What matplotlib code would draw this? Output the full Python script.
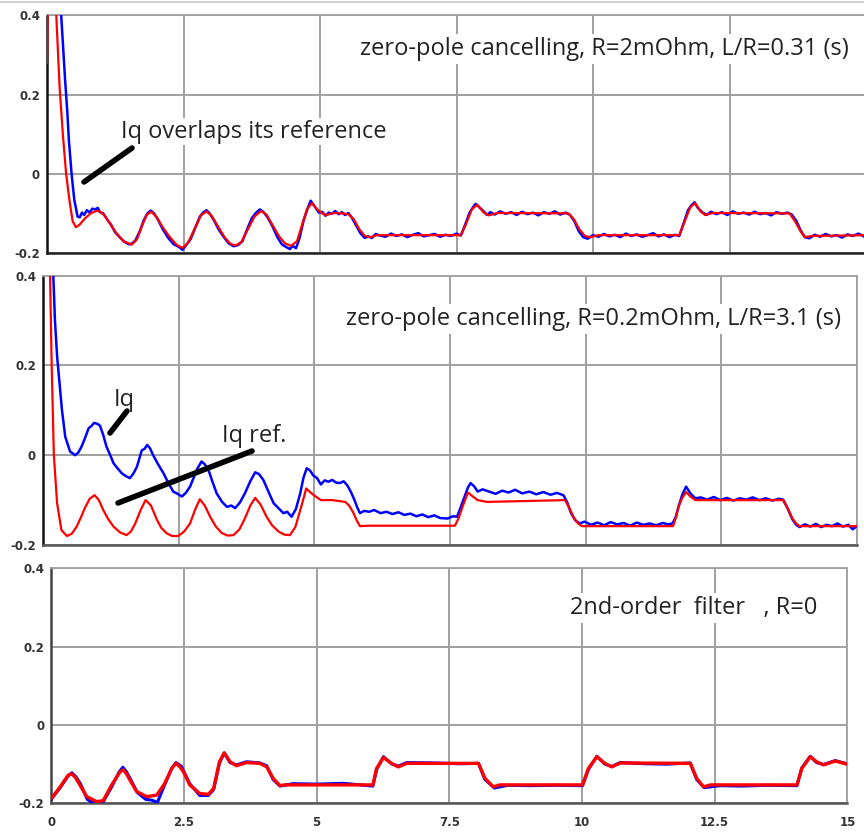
import matplotlib
matplotlib.use('Agg')
import matplotlib.pyplot as plt
from matplotlib.lines import Line2D

# ---------------- data, (time s, Iq) ----------------
x_ticks = [0, 2.5, 5, 7.5, 10, 12.5, 15]
x_tick_labels = ['0', '2.5', '5', '7.5', '10', '12.5', '15']
y_ticks = [-0.2, 0, 0.2, 0.4]
y_tick_labels = ['-0.2', '0', '0.2', '0.4']

titles = ['zero-pole cancelling, R=2mOhm, L/R=0.31 (s)',
          'zero-pole cancelling, R=0.2mOhm, L/R=3.1 (s)',
          '2nd-order  filter   , R=0']

# Panel 1: Iq reference (red)
p1_ref = [(0, 0.28), (0.02, 0.5), (0.15, 0.5), (0.17, 0.40), (0.20, 0.31), (0.23, 0.22), (0.29, 0.10),
          (0.35, 0.0), (0.41, -0.066), (0.47, -0.12), (0.53, -0.135), (0.60, -0.128), (0.70, -0.112),
          (0.80, -0.100), (0.90, -0.094), (0.97, -0.095), (1.05, -0.105), (1.15, -0.125), (1.27, -0.150),
          (1.40, -0.170), (1.55, -0.179), (1.65, -0.165), (1.75, -0.128), (1.83, -0.103), (1.91, -0.096),
          (2.00, -0.108), (2.12, -0.135), (2.25, -0.160), (2.38, -0.180), (2.48, -0.187), (2.58, -0.175),
          (2.70, -0.140), (2.82, -0.105), (2.92, -0.095), (3.02, -0.107), (3.12, -0.130), (3.25, -0.160),
          (3.36, -0.177), (3.46, -0.181), (3.56, -0.172), (3.68, -0.140), (3.80, -0.108), (3.92, -0.094),
          (4.02, -0.103), (4.12, -0.127), (4.25, -0.158), (4.36, -0.176), (4.47, -0.182), (4.58, -0.170),
          (4.68, -0.125), (4.76, -0.090), (4.85, -0.074), (4.95, -0.090), (5.05, -0.101), (5.12, -0.104),
          (5.25, -0.099), (5.40, -0.100), (5.52, -0.102), (5.62, -0.115), (5.72, -0.140), (5.82, -0.157),
          (5.92, -0.160), (6.05, -0.155), (7.58, -0.155), (7.68, -0.125), (7.78, -0.090), (7.88, -0.078),
          (8.00, -0.098), (8.09, -0.105), (8.25, -0.099), (9.55, -0.100), (9.65, -0.115), (9.75, -0.140),
          (9.85, -0.157), (9.95, -0.160), (10.10, -0.155), (11.58, -0.155), (11.68, -0.120),
          (11.78, -0.085), (11.87, -0.074), (11.97, -0.095), (12.05, -0.104), (12.20, -0.099),
          (13.60, -0.100), (13.70, -0.120), (13.80, -0.145), (13.88, -0.160), (14.00, -0.157),
          (15.0, -0.155)]

# Panel 1: Iq measured (blue)
p1_iq = [(0, 0.6), (0.26, 0.40), (0.30, 0.31), (0.33, 0.24), (0.37, 0.16), (0.40, 0.086), (0.45, 0.0),
         (0.50, -0.066), (0.56, -0.108), (0.60, -0.110), (0.64, -0.098), (0.68, -0.104), (0.73, -0.092),
         (0.78, -0.098), (0.83, -0.088), (0.88, -0.090), (0.93, -0.086), (0.97, -0.097), (1.03, -0.100),
         (1.10, -0.115), (1.17, -0.128), (1.25, -0.148), (1.33, -0.160), (1.42, -0.172), (1.50, -0.178),
         (1.56, -0.176), (1.62, -0.168), (1.70, -0.145), (1.77, -0.118), (1.84, -0.100), (1.90, -0.093),
         (1.96, -0.100), (2.03, -0.115), (2.12, -0.140), (2.22, -0.162), (2.32, -0.178), (2.42, -0.185),
         (2.48, -0.192), (2.55, -0.180), (2.63, -0.165), (2.72, -0.135), (2.80, -0.108), (2.86, -0.098),
         (2.92, -0.092), (2.98, -0.100), (3.06, -0.118), (3.15, -0.142), (3.25, -0.162), (3.33, -0.176),
         (3.42, -0.183), (3.50, -0.180), (3.58, -0.170), (3.66, -0.142), (3.75, -0.112), (3.83, -0.098),
         (3.90, -0.090), (3.96, -0.096), (4.03, -0.108), (4.12, -0.130), (4.22, -0.160), (4.30, -0.178),
         (4.38, -0.185), (4.45, -0.190), (4.50, -0.182), (4.56, -0.188), (4.62, -0.165), (4.70, -0.118),
         (4.78, -0.085), (4.83, -0.068), (4.88, -0.078), (4.93, -0.088), (4.98, -0.098), (5.04, -0.096),
         (5.10, -0.106), (5.16, -0.098), (5.22, -0.101), (5.28, -0.094), (5.34, -0.102), (5.40, -0.097),
         (5.46, -0.104), (5.52, -0.099), (5.58, -0.110), (5.66, -0.130), (5.74, -0.150), (5.82, -0.162),
         (5.88, -0.158), (5.95, -0.162), (6.02, -0.152), (6.1, -0.156), (6.2, -0.159), (6.3, -0.151),
         (6.4, -0.157), (6.5, -0.153), (6.6, -0.160), (6.7, -0.154), (6.8, -0.150), (6.9, -0.158),
         (7.0, -0.155), (7.1, -0.152), (7.2, -0.159), (7.3, -0.154), (7.4, -0.157), (7.5, -0.151),
         (7.58, -0.156), (7.66, -0.128), (7.74, -0.098), (7.80, -0.085), (7.85, -0.076), (7.92, -0.085),
         (8.00, -0.095), (8.06, -0.104), (8.12, -0.097), (8.20, -0.103), (8.3, -0.095), (8.4, -0.101),
         (8.5, -0.097), (8.6, -0.104), (8.7, -0.096), (8.8, -0.102), (8.9, -0.098), (9.0, -0.105),
         (9.1, -0.097), (9.2, -0.101), (9.3, -0.095), (9.4, -0.103), (9.5, -0.098), (9.58, -0.104),
         (9.66, -0.120), (9.74, -0.145), (9.82, -0.160), (9.90, -0.164), (10.0, -0.155), (10.1, -0.159),
         (10.2, -0.152), (10.3, -0.158), (10.4, -0.154), (10.5, -0.160), (10.6, -0.151), (10.7, -0.157),
         (10.8, -0.153), (10.9, -0.159), (11.0, -0.155), (11.1, -0.150), (11.2, -0.158), (11.3, -0.153),
         (11.4, -0.160), (11.5, -0.154), (11.58, -0.157), (11.66, -0.125), (11.74, -0.092),
         (11.80, -0.080), (11.86, -0.072), (11.92, -0.086), (12.00, -0.097), (12.08, -0.104),
         (12.16, -0.096), (12.26, -0.102), (12.36, -0.097), (12.46, -0.104), (12.56, -0.095),
         (12.66, -0.101), (12.76, -0.098), (12.86, -0.103), (12.96, -0.096), (13.06, -0.102),
         (13.16, -0.099), (13.26, -0.105), (13.36, -0.097), (13.46, -0.101), (13.56, -0.098),
         (13.64, -0.103), (13.72, -0.118), (13.80, -0.142), (13.88, -0.160), (13.96, -0.163),
         (14.06, -0.154), (14.16, -0.159), (14.26, -0.152), (14.36, -0.158), (14.46, -0.155),
         (14.56, -0.161), (14.66, -0.153), (14.76, -0.157), (14.86, -0.151), (14.96, -0.158)]

# Panel 2: Iq reference (red)
p2_ref = [(0, 0.6), (0.12, 0.6), (0.13, 0.40), (0.16, 0.20), (0.20, 0.0), (0.26, -0.107), (0.34, -0.167),
          (0.44, -0.180), (0.53, -0.175), (0.62, -0.159), (0.70, -0.138), (0.77, -0.118), (0.86, -0.097),
          (0.95, -0.089), (1.03, -0.100), (1.11, -0.122), (1.20, -0.142), (1.30, -0.159), (1.42, -0.172),
          (1.54, -0.178), (1.62, -0.170), (1.70, -0.152), (1.80, -0.122), (1.89, -0.100), (1.99, -0.112),
          (2.10, -0.144), (2.18, -0.162), (2.28, -0.174), (2.38, -0.180), (2.49, -0.180), (2.60, -0.170),
          (2.71, -0.152), (2.80, -0.122), (2.89, -0.098), (2.98, -0.112), (3.08, -0.137), (3.18, -0.158),
          (3.29, -0.173), (3.40, -0.179), (3.51, -0.178), (3.62, -0.165), (3.72, -0.141), (3.82, -0.112),
          (3.91, -0.095), (4.01, -0.110), (4.12, -0.137), (4.22, -0.156), (4.34, -0.170), (4.45, -0.177),
          (4.55, -0.178), (4.65, -0.160), (4.71, -0.135), (4.77, -0.110), (4.85, -0.074), (4.92, -0.082),
          (4.99, -0.089), (5.12, -0.100), (5.33, -0.100), (5.57, -0.104), (5.64, -0.112), (5.71, -0.126),
          (5.78, -0.145), (5.84, -0.158), (6.01, -0.157), (7.59, -0.157), (7.66, -0.140), (7.73, -0.115),
          (7.83, -0.083), (7.92, -0.092), (8.01, -0.100), (8.18, -0.104), (9.62, -0.100), (9.70, -0.118),
          (9.79, -0.141), (9.86, -0.152), (9.93, -0.158), (11.61, -0.158), (11.66, -0.140),
          (11.71, -0.115), (11.78, -0.095), (11.85, -0.082), (11.93, -0.092), (12.02, -0.100),
          (13.64, -0.100), (13.72, -0.118), (13.81, -0.141), (13.88, -0.152), (13.94, -0.158),
          (15.0, -0.158)]

# Panel 2: Iq measured (blue)
p2_iq = [(0, 0.6), (0.19, 0.40), (0.22, 0.301), (0.26, 0.22), (0.31, 0.153), (0.35, 0.10), (0.41, 0.041),
         (0.50, 0.008), (0.55, 0.004), (0.59, 0.0), (0.65, 0.006), (0.71, 0.019), (0.78, 0.040),
         (0.84, 0.060), (0.90, 0.066), (0.94, 0.072), (1.00, 0.070), (1.05, 0.066), (1.11, 0.045),
         (1.17, 0.019), (1.24, 0.000), (1.30, -0.018), (1.38, -0.030), (1.45, -0.040), (1.52, -0.046),
         (1.60, -0.051), (1.66, -0.042), (1.73, -0.026), (1.82, 0.011), (1.87, 0.014), (1.92, 0.023),
         (1.97, 0.016), (2.03, 0.000), (2.12, -0.020), (2.22, -0.040), (2.31, -0.062), (2.40, -0.081),
         (2.48, -0.086), (2.56, -0.092), (2.63, -0.084), (2.71, -0.070), (2.77, -0.052), (2.83, -0.033),
         (2.92, -0.014), (2.98, -0.020), (3.05, -0.033), (3.12, -0.058), (3.20, -0.085), (3.30, -0.104),
         (3.39, -0.115), (3.47, -0.112), (3.54, -0.118), (3.63, -0.105), (3.72, -0.085), (3.82, -0.058),
         (3.91, -0.038), (3.98, -0.042), (4.06, -0.055), (4.15, -0.080), (4.25, -0.107), (4.34, -0.118),
         (4.43, -0.129), (4.50, -0.126), (4.58, -0.137), (4.66, -0.120), (4.74, -0.085), (4.80, -0.050),
         (4.86, -0.029), (4.92, -0.034), (4.98, -0.045), (5.05, -0.051), (5.12, -0.065), (5.19, -0.056),
         (5.26, -0.059), (5.33, -0.055), (5.40, -0.061), (5.47, -0.062), (5.54, -0.058), (5.60, -0.066),
         (5.64, -0.074), (5.69, -0.086), (5.74, -0.100), (5.79, -0.116), (5.84, -0.129), (5.92, -0.124),
         (6.01, -0.126), (6.10, -0.122), (6.22, -0.129), (6.33, -0.126), (6.44, -0.131), (6.55, -0.127),
         (6.66, -0.133), (6.77, -0.130), (6.88, -0.136), (6.99, -0.132), (7.10, -0.138), (7.21, -0.134),
         (7.32, -0.140), (7.46, -0.141), (7.55, -0.136), (7.63, -0.137), (7.70, -0.115), (7.77, -0.092),
         (7.83, -0.072), (7.88, -0.062), (7.95, -0.070), (8.01, -0.081), (8.10, -0.076), (8.22, -0.081),
         (8.34, -0.086), (8.46, -0.079), (8.58, -0.083), (8.70, -0.077), (8.83, -0.085), (8.96, -0.081),
         (9.09, -0.087), (9.22, -0.082), (9.35, -0.088), (9.47, -0.084), (9.59, -0.089), (9.66, -0.105),
         (9.73, -0.129), (9.81, -0.145), (9.89, -0.152), (9.98, -0.148), (10.10, -0.155), (10.22, -0.150),
         (10.34, -0.156), (10.46, -0.149), (10.58, -0.154), (10.70, -0.151), (10.82, -0.157),
         (10.94, -0.150), (11.06, -0.155), (11.18, -0.152), (11.30, -0.156), (11.42, -0.151),
         (11.52, -0.154), (11.60, -0.152), (11.66, -0.138), (11.71, -0.115), (11.78, -0.088),
         (11.85, -0.070), (11.93, -0.085), (12.02, -0.096), (12.12, -0.094), (12.24, -0.099),
         (12.36, -0.093), (12.48, -0.100), (12.60, -0.095), (12.72, -0.101), (12.84, -0.096),
         (12.96, -0.099), (13.08, -0.094), (13.20, -0.100), (13.32, -0.096), (13.44, -0.101),
         (13.56, -0.097), (13.64, -0.099), (13.72, -0.118), (13.81, -0.143), (13.88, -0.155),
         (13.94, -0.160), (14.04, -0.154), (14.14, -0.159), (14.24, -0.153), (14.34, -0.160),
         (14.44, -0.155), (14.54, -0.158), (14.64, -0.152), (14.74, -0.159), (14.84, -0.155),
         (14.92, -0.165), (15.0, -0.158)]

# Panel 3: Iq reference (red)
p3_ref = [(0.01, -0.186), (0.17, -0.158), (0.32, -0.128), (0.39, -0.125), (0.46, -0.135), (0.54, -0.153),
          (0.67, -0.183), (0.86, -0.196), (0.98, -0.193), (1.14, -0.153), (1.30, -0.119), (1.36, -0.115),
          (1.42, -0.125), (1.48, -0.140), (1.61, -0.170), (1.80, -0.183), (1.99, -0.179), (2.14, -0.149),
          (2.27, -0.111), (2.35, -0.098), (2.42, -0.106), (2.49, -0.119), (2.61, -0.153), (2.80, -0.175),
          (2.96, -0.177), (3.06, -0.162), (3.17, -0.094), (3.26, -0.071), (3.37, -0.094), (3.49, -0.104),
          (3.68, -0.096), (3.93, -0.098), (4.06, -0.107), (4.18, -0.136), (4.31, -0.155), (4.40, -0.153),
          (6.06, -0.153), (6.13, -0.111), (6.26, -0.083), (6.41, -0.098), (6.54, -0.107), (6.70, -0.098),
          (8.05, -0.098), (8.17, -0.136), (8.33, -0.158), (8.45, -0.153), (10.01, -0.153), (10.12, -0.111),
          (10.28, -0.081), (10.43, -0.098), (10.56, -0.107), (10.72, -0.097), (12.04, -0.098),
          (12.16, -0.136), (12.29, -0.158), (12.42, -0.153), (14.05, -0.153), (14.14, -0.111),
          (14.30, -0.081), (14.42, -0.094), (14.55, -0.102), (14.77, -0.092), (14.99, -0.100)]

# Panel 3: Iq measured (blue)
p3_iq = [(0.0, -0.190), (0.17, -0.160), (0.32, -0.130), (0.39, -0.122), (0.47, -0.133), (0.55, -0.150),
         (0.68, -0.190), (0.80, -0.200), (0.90, -0.199), (0.98, -0.196), (1.14, -0.158), (1.28, -0.120),
         (1.35, -0.108), (1.42, -0.120), (1.50, -0.140), (1.62, -0.172), (1.78, -0.190), (1.90, -0.192),
         (2.00, -0.198), (2.14, -0.152), (2.27, -0.111), (2.35, -0.096), (2.45, -0.105), (2.61, -0.150),
         (2.80, -0.180), (2.96, -0.180), (3.06, -0.165), (3.17, -0.097), (3.26, -0.072), (3.37, -0.096),
         (3.49, -0.102), (3.68, -0.094), (3.93, -0.097), (4.06, -0.104), (4.18, -0.139), (4.31, -0.156),
         (4.55, -0.150), (5.00, -0.151), (5.50, -0.149), (6.06, -0.156), (6.13, -0.114), (6.26, -0.081),
         (6.41, -0.099), (6.54, -0.105), (6.70, -0.096), (7.20, -0.097), (7.70, -0.099), (8.05, -0.098),
         (8.17, -0.139), (8.35, -0.161), (8.60, -0.154), (9.00, -0.155), (9.50, -0.154), (10.01, -0.155),
         (10.12, -0.114), (10.28, -0.080), (10.43, -0.100), (10.56, -0.106), (10.72, -0.096),
         (11.20, -0.099), (11.60, -0.100), (12.04, -0.097), (12.16, -0.139), (12.30, -0.160),
         (12.60, -0.155), (13.00, -0.156), (13.50, -0.154), (14.05, -0.155), (14.14, -0.110),
         (14.30, -0.080), (14.42, -0.096), (14.55, -0.101), (14.77, -0.091), (14.99, -0.099)]

series = [(p1_iq, p1_ref), (p2_iq, p2_ref), (p3_iq, p3_ref)]

# ---------------- layout (pixel boxes: left, right, top, bottom) ----------------
W, H = 864, 833
fig = plt.figure(figsize=(W / 100, H / 100), dpi=100)
fig.patch.set_facecolor('white')

boxes = [(47, 866, 15.3, 253), (43, 857, 275.7, 545), (51.2, 847.4, 568.3, 803.3)]
title_pos = [(604, 55), (593, 325), (694, 614)]
red_lw = [1.6, 1.6, 2.4]
blue_lw = [1.8, 1.8, 2.2]
TXT_FONT = 'Open Sans'
TXT_SIZE = 17

for i, (l, r, t, b) in enumerate(boxes):
    ax = fig.add_axes([l / W, 1 - b / H, (r - l) / W, (b - t) / H])
    ax.set_xlim(0, 15)
    ax.set_ylim(-0.2, 0.4)
    ax.set_xticks(x_ticks)
    ax.set_yticks(y_ticks)
    ax.set_yticklabels(y_tick_labels)
    if i == 2:
        ax.set_xticklabels(x_tick_labels)
    else:
        ax.set_xticklabels([])
    ax.tick_params(length=0, labelsize=8.5, labelcolor='#333333', pad=5)
    ax.tick_params(axis='x', pad=9)
    for lab in ax.get_yticklabels() + ax.get_xticklabels():
        lab.set_fontfamily('DejaVu Sans')
        lab.set_fontweight('bold')
    ax.grid(True, color='#a0a0a0', lw=1.4)
    ax.set_axisbelow(True)
    for side in ['top', 'right']:
        ax.spines[side].set_color('#a0a0a0')
        ax.spines[side].set_linewidth(1.3)
    ax.spines['left'].set_color('#111111' if i < 2 else '#444444')
    ax.spines['left'].set_linewidth(1.8)
    ax.spines['bottom'].set_color('#222222' if i == 0 else '#555555')
    ax.spines['bottom'].set_linewidth(1.8)

    iq, ref = series[i]
    bt, by = zip(*iq)
    rt, ry = zip(*ref)
    ax.plot(bt, by, color='#0000ff', lw=blue_lw[i], zorder=3, solid_joinstyle='round')
    ax.plot(rt, ry, color='#ff0000', lw=red_lw[i], zorder=4, solid_joinstyle='round')

    tx, ty = title_pos[i]
    fig.text(tx / W, 1 - ty / H, titles[i], ha='center', va='baseline',
             fontsize=TXT_SIZE, family=TXT_FONT, color='#222222', zorder=5,
             bbox=dict(facecolor='white', edgecolor='none', pad=2))

# annotation texts and pointer strokes (pixel coordinates, baseline)
notes = [('Iq overlaps its reference', 121, 137.5),
         ('Iq', 114, 406),
         ('Iq ref.', 222, 441.5)]
for txt, px, py in notes:
    fig.text(px / W, 1 - py / H, txt, ha='left', va='baseline', fontsize=TXT_SIZE,
             family=TXT_FONT, color='#222222', zorder=6,
             bbox=dict(facecolor='white', edgecolor='none', pad=1))

strokes = [((84, 182), (132, 148)),
           ((110, 433), (127, 411)),
           ((118, 503), (252, 451))]
for (x0, y0), (x1, y1) in strokes:
    fig.add_artist(Line2D([x0 / W, x1 / W], [1 - y0 / H, 1 - y1 / H], color='black',
                          lw=4, solid_capstyle='round', zorder=10))

# thin screenshot border at the very top
fig.add_artist(Line2D([0, 1], [1 - 1.5 / H, 1 - 1.5 / H], color='#c8c8c8', lw=1.2))

fig.savefig('out.png', dpi=100)
